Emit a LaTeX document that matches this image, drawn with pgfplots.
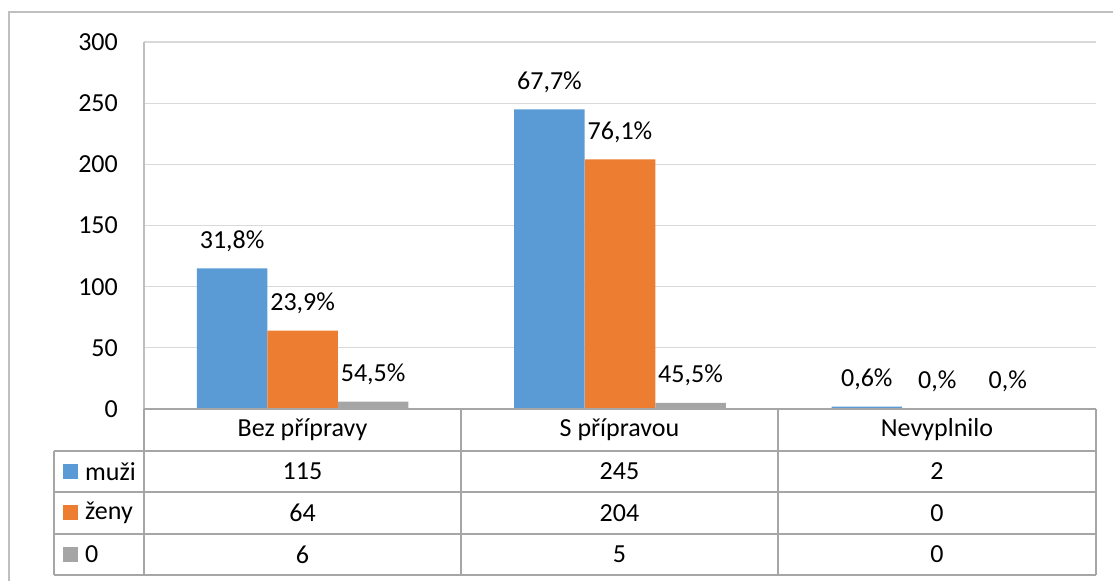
\documentclass[border=0pt]{standalone}
\usepackage{fontspec}
\setmainfont{Carlito}
\usepackage{pgfplots}
\usepackage{pgfplotstable}
\pgfplotsset{compat=1.18}
\definecolor{cmuzi}{HTML}{5B9BD5}
\definecolor{czeny}{HTML}{ED7D31}
\definecolor{cnula}{HTML}{A5A5A5}
\definecolor{cgrid}{HTML}{D9D9D9}
\definecolor{cline}{HTML}{A6A6A6}
\definecolor{cframe}{HTML}{BFBFBF}
\pgfplotstableread{
x muzi mlab zeny zlab nula nlab
0 115 31,8\% 64 23,9\% 6 54,5\%
1 245 67,7\% 204 76,1\% 5 45,5\%
2 2 0,6\% 0 0,\% 0 0,\%
}\datatab
\begin{document}
\fontsize{26bp}{30bp}\selectfont
\begin{tikzpicture}
\useasboundingbox (0,0) rectangle (1113bp,581bp);
\draw[cframe, line width=1.3bp] (9bp,0) -- (9bp,569bp) -- (1113bp,569bp);
\begin{axis}[
  at={(144bp,172bp)}, anchor=south west,
  scale only axis, width=952bp, height=367bp,
  xmin=-0.5, xmax=2.5, ymin=0, ymax=300,
  ytick={0,50,...,300}, xtick=\empty,
  axis x line=bottom, axis y line=left,
  axis line style={cframe, line width=1.3bp, -},
  ymajorgrids, grid style={cgrid, line width=1.3bp},
  major tick length=0pt,
  /pgf/number format/assume math mode=true,
  tick label style={font=\fontsize{26bp}{30bp}\selectfont},
  yticklabel style={anchor=east, inner sep=0pt, xshift=-26bp},
  ybar, bar width=0.2222,
  point meta=explicit symbolic,
  nodes near coords,
  nodes near coords style={font=\fontsize{26bp}{30bp}\selectfont, anchor=base, inner sep=0pt, yshift=20bp, black},
]
\addplot[fill=cmuzi, draw=none, bar shift=-0.2222] table[x=x, y=muzi, meta=mlab] {\datatab};
\addplot[fill=czeny, draw=none, bar shift=0] table[x=x, y=zeny, meta=zlab] {\datatab};
\addplot[fill=cnula, draw=none, bar shift=0.2222] table[x=x, y=nula, meta=nlab] {\datatab};
\end{axis}
\begin{scope}[x=1bp, y=1bp]
  % table grid
  \draw[cline, line width=1.3bp] (144,172) -- (1096,172);
  \draw[cline, line width=1.3bp] (54,130) -- (1096,130);
  \draw[cline, line width=1.3bp] (54,89) -- (1096,89);
  \draw[cline, line width=1.3bp] (54,47) -- (1096,47);
  \draw[cline, line width=1.3bp] (54,6) -- (1096,6);
  \draw[cline, line width=1.3bp] (54,130) -- (54,6);
  \draw[cline, line width=1.3bp] (144,172) -- (144,6);
  \draw[cline, line width=1.3bp] (461,172) -- (461,6);
  \draw[cline, line width=1.3bp] (778,172) -- (778,6);
  \draw[cline, line width=1.3bp] (1096,172) -- (1096,6);
  % header
  \node at (302.5,151) {Bez přípravy};
  \node at (619.5,151) {S přípravou};
  \node at (937,151) {Nevyplnilo};
  % row labels
  \fill[cmuzi] (63,102) rectangle (78,117);
  \node[anchor=west, inner sep=0pt] at (85,109.5) {muži};
  \fill[czeny] (63,60.5) rectangle (78,75.5);
  \node[anchor=west, inner sep=0pt] at (85,68) {ženy};
  \fill[cnula] (63,19) rectangle (78,34);
  \node[anchor=west, inner sep=0pt] at (85,26.5) {0};
  % values
  \node at (302.5,109.5) {115};
  \node at (619.5,109.5) {245};
  \node at (937,109.5) {2};
  \node at (302.5,68) {64};
  \node at (619.5,68) {204};
  \node at (937,68) {0};
  \node at (302.5,26.5) {6};
  \node at (619.5,26.5) {5};
  \node at (937,26.5) {0};
\end{scope}
\end{tikzpicture}
\end{document}
